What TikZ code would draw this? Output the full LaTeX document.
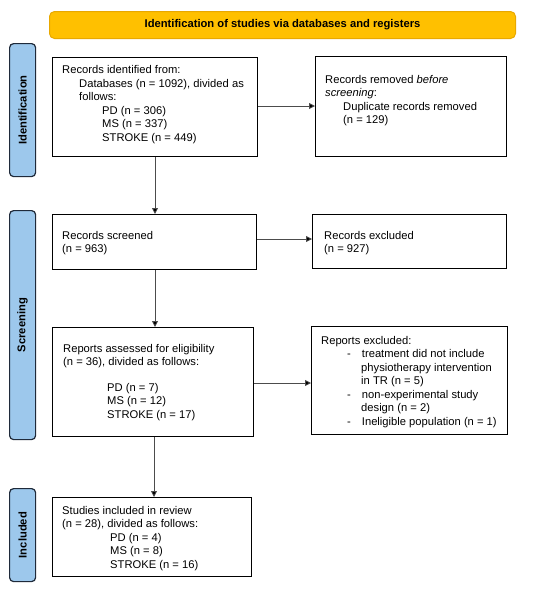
\documentclass[tikz,border=0pt]{standalone}
\usepackage{fontspec}
\setmainfont{Liberation Sans}
\usetikzlibrary{arrows.meta}
\definecolor{bannerfill}{HTML}{FFC000}
\definecolor{bannerdraw}{HTML}{E8A800}
\definecolor{sidefill}{HTML}{9DC8EC}
\definecolor{sidedraw}{HTML}{1F2A3A}
\tikzset{
  x=1pt, y=-1pt,
  every node/.style={font=\fontsize{11.2}{13.5}\selectfont},
  box/.style={draw=black, line width=1.1pt, anchor=north west, inner sep=0pt},
  txt/.style={anchor=north west, align=left, inner sep=0pt},
  side/.style={draw=sidedraw, fill=sidefill, line width=1.2pt, rounded corners=4pt, anchor=north west, inner sep=0pt},
  sidetxt/.style={rotate=90, font=\fontsize{11.2}{13.5}\selectfont\bfseries},
  conn/.style={draw=black!70, line width=0.8pt, -{Triangle[length=6pt,width=6pt,fill=black]}},
}
\begin{document}
\begin{tikzpicture}
\useasboundingbox (0,0) rectangle (550,592);
% banner
\node[draw=bannerdraw, fill=bannerfill, line width=1pt, rounded corners=5pt, anchor=north west,
  minimum width=466pt, minimum height=27pt, inner sep=0pt] (banner) at (49,11) {};
\node[font=\fontsize{11.2}{13.5}\selectfont\bfseries] (bannertxt) at (banner.center) {Identification of studies via databases and registers};
% side labels
\node[side, minimum width=26pt, minimum height=133pt] (s1) at (9,43) {};
\node[sidetxt] (s1t) at (s1.center) {Identification};
\node[side, minimum width=26pt, minimum height=229pt] (s2) at (9,210) {};
\node[sidetxt] (s2t) at (s2.center) {Screening};
\node[side, minimum width=26pt, minimum height=93pt] (s3) at (9,488) {};
\node[sidetxt] (s3t) at (s3.center) {Included};
% boxes
\node[box, minimum width=205pt, minimum height=99pt] (b1) at (52,57) {};
\node[txt] (b1t) at (62,65.5) {Records identified from:\\
\hspace*{17pt}Databases (n = 1092), divided as\\
\hspace*{17pt}follows:\\
\hspace*{40pt}PD (n = 306)\\
\hspace*{40pt}MS (n = 337)\\
\hspace*{40pt}STROKE (n = 449)};
\node[box, minimum width=191pt, minimum height=100pt] (b2) at (315,56) {};
\node[txt] (b2t) at (325,75) {Records removed \textit{before}\\
\textit{screening}:\\
\hspace*{18pt}Duplicate records removed\\
\hspace*{18pt}(n = 129)};
\node[box, minimum width=204pt, minimum height=55pt] (b3) at (52,214) {};
\node[txt] (b3t) at (62,231) {Records screened\\(n = 963)};
\node[box, minimum width=194pt, minimum height=54pt] (b4) at (312,214) {};
\node[txt] (b4t) at (324,231) {Records excluded\\(n = 927)};
\node[box, minimum width=201pt, minimum height=109pt] (b5) at (52,327) {};
\node[txt] (b5t) at (63,344) {Reports assessed for eligibility\\
(n = 36), divided as follows:\\[12pt]
\hspace*{44pt}PD (n = 7)\\
\hspace*{44pt}MS (n = 12)\\
\hspace*{44pt}STROKE (n = 17)};
\node[box, minimum width=196pt, minimum height=108pt] (b6) at (311,326) {};
\node[txt] (b6t) at (321,336) {Reports excluded:\\
\hspace*{26pt}-\hspace*{11pt}treatment did not include\\
\hspace*{40pt}physiotherapy intervention\\
\hspace*{40pt}in TR (n = 5)\\
\hspace*{26pt}-\hspace*{11pt}non-experimental study\\
\hspace*{40pt}design (n = 2)\\
\hspace*{26pt}-\hspace*{11pt}Ineligible population (n = 1)};
\node[box, minimum width=199pt, minimum height=79pt] (b7) at (52,497) {};
\node[txt] (b7t) at (62,506) {Studies included in review\\
(n = 28), divided as follows:\\
\hspace*{48pt}PD (n = 4)\\
\hspace*{48pt}MS (n = 8)\\
\hspace*{48pt}STROKE (n = 16)};
% connectors
\draw[conn] (b1.east |- 0,106) -- (b2.west |- 0,106);
\draw[conn] (b3.east |- 0,239) -- (b4.west |- 0,239);
\draw[conn] (b5.east |- 0,383) -- (b6.west |- 0,383);
\draw[conn] (b1.south -| 155,0) -- (b3.north -| 155,0);
\draw[conn] (b3.south -| 155,0) -- (b5.north -| 155,0);
\draw[conn] (b5.south -| 154,0) -- (b7.north -| 154,0);
\end{tikzpicture}
\end{document}
